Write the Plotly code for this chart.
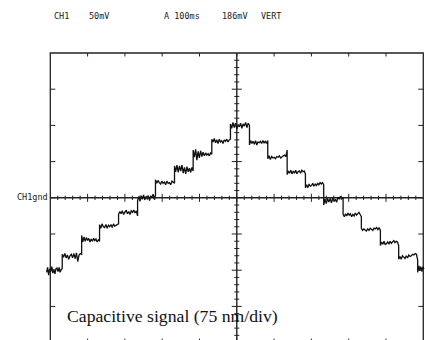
import plotly.graph_objects as go

# ---- data (time in ms, 100 ms/div; signal in mV, 50 mV/div)
trace_start_ms = -10
trace_end_ms = 1002
step_ms = [32, 84, 132, 183, 234, 282, 333, 383, 433, 483,
           534, 583, 635, 684, 733, 785, 834, 885, 934, 985]
level_mv = [-100, -81, -59, -40, -22, 0, 21, 39, 59, 78, 99,
            76, 56, 35, 17, -3, -24, -44, -63, -82, -98]
# noise read along each plateau (mV offsets from the plateau level)
noise_mv = [
    [-3, 4, -7, 2, -2, 5, -4, 1, -5, 2, 3, -2, 4, -3, 1, 2],
    [3, -1, 4, -2, 2, -4, 1, 3, -2, 4, -3, 5, -7, 2, 4, 3],
    [7, -2, 5, -1, 4, 0, 3, -2, 2, -1, 3, 0, 2, -2, 1, -1],
    [3, -2, 4, 0, -1, 3, -2, 2, 0, 3, -1, 4, 1, 2, 3, 4],
    [-1, 3, 0, 4, -1, 2, 5, 0, 3, -1, 4, 2, 5, 1, 4, -3],
    [-4, 2, -5, 3, -2, 4, -3, 2, -1, 3, -4, 2, 1, 5, -2, 3],
    [4, -1, 3, 0, -2, 2, -1, 1, -3, 2, -1, 0, -3, 2, 0, -1],
    [5, -3, 6, -4, 5, -2, 6, -5, 3, -6, 4, -3, 2, -4, 3, -2],
    [7, -3, 8, -7, 5, -4, 6, -2, 4, -1, 3, 0, 2, -1, 3, 1],
    [3, -1, 4, -2, 2, -3, 3, -1, 1, -3, 2, 0, 3, -1, 2, 3],
    [3, -3, 5, -2, 4, -4, 2, -1, 4, -3, 3, 0, 5, -2, 4, 1],
    [-3, 3, -1, 2, -2, 3, -3, 1, 0, 2, -1, 3, 0, 2, -1, 3],
    [-2, 2, -3, 1, -1, 0, -2, 1, 0, 2, -1, 1, 2, 3, 1, 10],
    [-3, 2, -1, 3, -2, 2, -1, 3, -2, 1, 2, -1, 3, 1, 2, -2],
    [-3, 1, -3, 2, -1, 0, 3, -1, 2, 0, 3, 1, 4, 2, 4, 1],
    [-7, 1, -5, 2, -3, 2, -4, 3, -2, 1, -3, 4, 1, 5, 2, 3],
    [1, -2, 2, -1, 3, 0, 2, -2, 1, -1, 3, 0, 2, 4, 1, -2],
    [2, -1, 1, 0, -2, 1, -1, 2, 0, -1, 2, 1, 3, 0, 3, -1],
    [-3, 2, -1, 3, -2, 1, 2, -1, 3, 0, 2, 4, 1, 3, 2, -3],
    [-3, 1, -3, 2, 0, -2, 2, -1, 3, 1, 2, 4, 3, 5, 4, -4],
    [-5, 3, -2, 4, -3, 2, -1, 3, -2, 1, -4, 2, -1, 3, 0, 1],
]
header_labels = ["CH1", "50mV", "A 100ms", "186mV", "VERT"]
gnd_label = "CH1gnd"
caption = "Capacitive signal (75 nm/div)"

# ---- build the trace
bounds = [trace_start_ms] + step_ms + [trace_end_ms]
xs, ys = [], []
for i, lvl in enumerate(level_mv):
    s, e = bounds[i], bounds[i + 1]
    nz = noise_mv[i]
    n = len(nz)
    for k in range(n):
        xs.append(s + (e - s) * k / (n - 1))
        ys.append(lvl + nz[k])

fig = go.Figure()
fig.add_trace(go.Scatter(x=xs, y=ys, mode="lines",
                         line=dict(color="#111111", width=1.3),
                         hoverinfo="skip", showlegend=False))

# ---- graticule
C = "#222222"
shapes = []
# frame
shapes.append(dict(type="rect", xref="x", yref="y", x0=0, x1=1000, y0=-200, y1=200,
                   line=dict(color=C, width=1.3), layer="below"))
# centre lines
shapes.append(dict(type="line", xref="x", yref="y", x0=0, x1=1000, y0=0, y1=0,
                   line=dict(color=C, width=1.4), layer="below"))
shapes.append(dict(type="line", xref="x", yref="y", x0=500, x1=500, y0=-200, y1=200,
                   line=dict(color=C, width=1.4), layer="below"))
# ticks on horizontal centre line
for t in range(20, 1000, 20):
    h = 4 if t % 100 == 0 else 2.2
    shapes.append(dict(type="line", xref="x", yref="y", ysizemode="pixel", yanchor=0,
                       x0=t, x1=t, y0=-h, y1=h, line=dict(color=C, width=1)))
# ticks on vertical centre line
for v in range(-190, 200, 10):
    h = 5 if v % 50 == 0 else 2.5
    shapes.append(dict(type="line", xref="x", yref="y", xsizemode="pixel", xanchor=500,
                       x0=-h, x1=h, y0=v, y1=v, line=dict(color=C, width=1)))
# ticks on frame
for t in range(100, 1000, 100):
    shapes.append(dict(type="line", xref="x", yref="y", ysizemode="pixel", yanchor=200,
                       x0=t, x1=t, y0=-3.5, y1=0, line=dict(color=C, width=1)))
    shapes.append(dict(type="line", xref="x", yref="y", ysizemode="pixel", yanchor=-200,
                       x0=t, x1=t, y0=0, y1=4, line=dict(color=C, width=1)))
for v in range(-150, 200, 50):
    shapes.append(dict(type="line", xref="x", yref="y", xsizemode="pixel", xanchor=0,
                       x0=0, x1=5, y0=v, y1=v, line=dict(color=C, width=1)))
    shapes.append(dict(type="line", xref="x", yref="y", xsizemode="pixel", xanchor=1000,
                       x0=-5, x1=0, y0=v, y1=v, line=dict(color=C, width=1)))

# ---- text
W, H = 425, 340
L, R, T, B = 44, 0, 48, 0
pw, ph = W - L - R, H - T - B

def px(x):
    return (x - L) / pw

def py(y):
    return (H - B - y) / ph

annotations = []
header_px = [53, 88, 163, 221, 260]
mono = dict(family="DejaVu Sans Mono", size=8.5, color="#222222")
for lab, xp in zip(header_labels, header_px):
    annotations.append(dict(text=lab, xref="paper", yref="paper", x=px(xp), y=py(15.8),
                            xanchor="left", yanchor="middle", showarrow=False,
                            font=mono, borderpad=0))
annotations.append(dict(text=gnd_label, xref="paper", yref="paper", x=px(48.5), y=py(197.3),
                        xanchor="right", yanchor="middle", showarrow=False,
                        font=mono, borderpad=0))
annotations.append(dict(text=caption, xref="paper", yref="paper", x=px(66), y=py(316),
                        xanchor="left", yanchor="middle", showarrow=False,
                        font=dict(family="Liberation Serif", size=17.7, color="#111111"),
                        borderpad=0))

fig.update_layout(
    width=W, height=H, autosize=False,
    margin=dict(l=L, r=R, t=T, b=B, pad=0),
    paper_bgcolor="white", plot_bgcolor="white",
    xaxis=dict(range=[-16.9, 1004.6], showgrid=False, zeroline=False,
               showticklabels=False, ticks="", showline=False, fixedrange=True),
    yaxis=dict(range=[-196.4, 206.9], showgrid=False, zeroline=False,
               showticklabels=False, ticks="", showline=False, fixedrange=True),
    shapes=shapes, annotations=annotations, showlegend=False,
)
fig.write_html("out.html")
